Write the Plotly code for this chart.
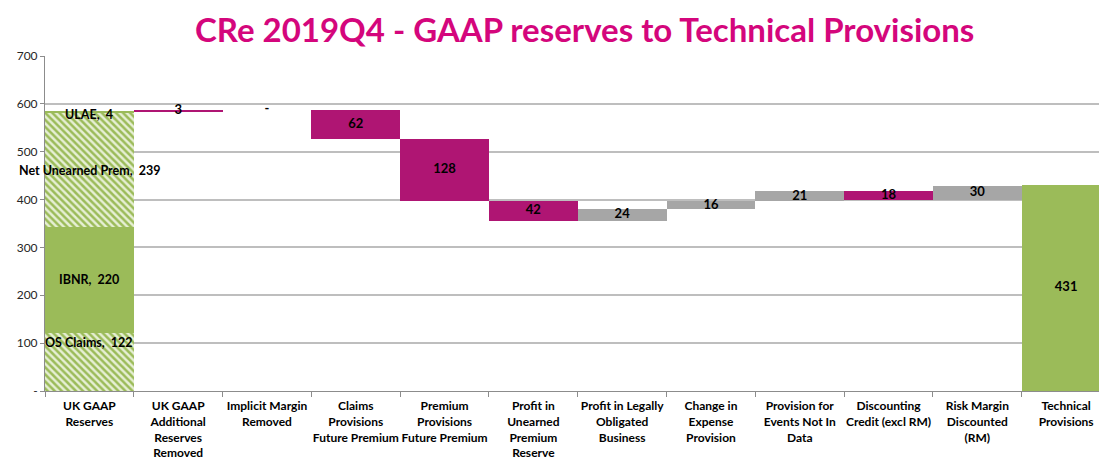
import plotly.graph_objects as go

# ---------------- data ----------------
categories = [
    "UK GAAP<br>Reserves",
    "UK GAAP<br>Additional<br>Reserves<br>Removed",
    "Implicit Margin<br>Removed",
    "Claims<br>Provisions<br>Future Premium",
    "Premium<br>Provisions<br>Future Premium",
    "Profit in<br>Unearned<br>Premium<br>Reserve",
    "Profit in Legally<br>Obligated<br>Business",
    "Change in<br>Expense<br>Provision",
    "Provision for<br>Events Not In<br>Data",
    "Discounting<br>Credit (excl RM)",
    "Risk Margin<br>Discounted<br>(RM)",
    "Technical<br>Provisions",
]
gaap_parts = ["OS Claims", "IBNR", "Net Unearned Prem", "ULAE"]
gaap_values = [122, 220, 239, 4]
step_values = [3, 0, -62, -128, -42, 24, 16, 21, -18, 30]
total_value = 431
y_ticks = [0, 100, 200, 300, 400, 500, 600, 700]
y_ticktext = ["-", "100", "200", "300", "400", "500", "600", "700"]

# ---------------- style ----------------
PINK = "#AF1573"
GREY = "#A6A6A6"
GREEN = "#9BBB59"
LIGHT_GREEN = "#E6EFD4"
TITLE_PINK = "#D4067C"
FONT = "Lato"
step_colors = [PINK, PINK, PINK, PINK, PINK, GREY, GREY, GREY, PINK, GREY]
gaap_hatched = [True, False, True, False]
gaap_label_shift = [-10, 0, 0, -3]
gaap_label_anchor = ["top", "mid", "mid", "top"]

fig = go.Figure()

# stacked first bar
base = 0
for name, v, hatched, shift, anchor in zip(gaap_parts, gaap_values, gaap_hatched,
                                           gaap_label_shift, gaap_label_anchor):
    marker = dict(color=GREEN, line=dict(width=0))
    if hatched:
        marker["pattern"] = dict(shape="\\", fillmode="replace", fgcolor=GREEN,
                                 bgcolor=LIGHT_GREEN, size=5, solidity=0.5)
    fig.add_trace(go.Bar(x=[categories[0]], y=[v], base=[base], marker=marker,
                         width=1.0, showlegend=False, hoverinfo="skip"))
    ly = base + v if anchor == "top" else base + v / 2
    fig.add_annotation(x=categories[0], y=ly, text=f"<b>{name},  {v}</b>",
                       showarrow=False, yshift=shift,
                       font=dict(family=FONT, size=12.5, color="black"))
    base += v

# steps
level = base
step_x, step_base, step_h, lab_y, lab_t = [], [], [], [], []
for cat, v in zip(categories[1:-1], step_values):
    step_x.append(cat)
    lo = min(level, level + v)
    step_base.append(lo)
    step_h.append(abs(v))
    lab_y.append(lo + abs(v) / 2)
    lab_t.append("-" if v == 0 else str(abs(v)))
    level += v

fig.add_trace(go.Bar(x=step_x, y=step_h, base=step_base, width=1.0,
                     marker=dict(color=step_colors, line=dict(width=0)),
                     showlegend=False, hoverinfo="skip"))

# total
fig.add_trace(go.Bar(x=[categories[-1]], y=[total_value], base=[0], width=1.0,
                     marker=dict(color=GREEN, line=dict(width=0)),
                     showlegend=False, hoverinfo="skip"))

fig.add_trace(go.Scatter(x=step_x + [categories[-1]], y=lab_y + [total_value / 2],
                         text=[f"<b>{t}</b>" for t in lab_t] + [f"<b>{total_value}</b>"],
                         mode="text", textposition="middle center",
                         textfont=dict(family=FONT, size=13, color="black"),
                         showlegend=False, hoverinfo="skip", cliponaxis=False))

fig.update_layout(
    width=1099, height=459,
    margin=dict(l=45, r=0, t=56, b=68),
    paper_bgcolor="white", plot_bgcolor="white",
    barmode="overlay", bargap=0,
    font=dict(family=FONT, size=12, color="black"),
    title=dict(text="<b>CRe 2019Q4 - GAAP reserves to Technical Provisions</b>",
               x=0.532, xref="container", xanchor="center",
               y=0.933, yref="container", yanchor="middle",
               font=dict(family=FONT, size=33, color=TITLE_PINK)),
    xaxis=dict(type="category", categoryorder="array", categoryarray=categories,
               range=[-0.5, 11.37], showgrid=False, automargin=False,
               tickangle=0, ticklabelstandoff=4,
               showline=True, linecolor="#8C8C8C", linewidth=1,
               ticks="outside", tickson="boundaries", ticklen=5, tickcolor="#8C8C8C",
               tickfont=dict(family=FONT, size=12, color="black", weight="bold")),
    yaxis=dict(range=[0, 700], tickvals=y_ticks, ticktext=y_ticktext,
               showgrid=True, gridcolor="#BEBEBE", gridwidth=1.5, automargin=False,
               showline=True, linecolor="#8C8C8C", linewidth=1,
               ticks="outside", ticklen=4, tickcolor="#8C8C8C",
               tickfont=dict(family=FONT, size=12, color="#262626"),
               zeroline=False),
)

fig.write_html("out.html", config={"displayModeBar": False},
               post_script="document.body.style.margin='0';document.body.style.overflow='hidden';")
